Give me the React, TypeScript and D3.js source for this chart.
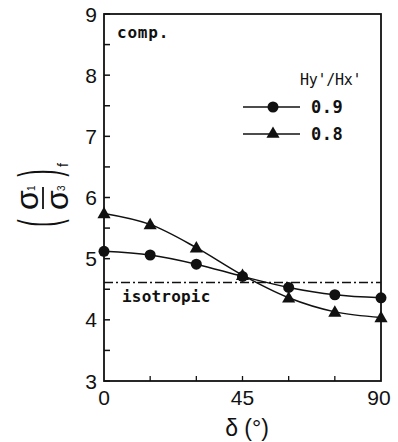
import { useEffect, useRef } from 'react';
import * as d3 from 'd3';

const deltas = [0, 15, 30, 45, 60, 75, 90];
const ratio09 = [5.12, 5.06, 4.91, 4.71, 4.53, 4.41, 4.36];
const ratio08 = [5.74, 5.56, 5.18, 4.73, 4.36, 4.13, 4.04];
const isotropic = 4.61;
const yTicks = [3, 4, 5, 6, 7, 8, 9];
const yMinor = [3.5, 4.5, 5.5, 6.5, 7.5, 8.5];
const xLabels = [0, 45, 90];
const xMinor = [15, 30, 45, 60, 75];
const legendTitle = "Hy'/Hx'";
const seriesNames = ['0.9', '0.8'];

export default function App() {
  const svgRef = useRef<SVGSVGElement>(null);

  useEffect(() => {
    if (!svgRef.current) return;
    const svg = d3.select(svgRef.current);
    svg.selectAll('*').remove();

    const left = 104, right = 381, top = 14, bottom = 381;
    const x = d3.scaleLinear().domain([0, 90]).range([left, right]);
    const y = d3.scaleLinear().domain([3, 9]).range([bottom, top]);
    const ink = '#111';
    const digitFont = 'Liberation Sans, Arial, sans-serif';
    const monoFont = 'DejaVu Sans Mono, monospace';

    // frame
    svg.append('rect')
      .attr('x', left).attr('y', top)
      .attr('width', right - left).attr('height', bottom - top)
      .attr('fill', 'none').attr('stroke', ink).attr('stroke-width', 1.8);

    // y ticks (inward)
    svg.selectAll('.ytick')
      .data([...yTicks, ...yMinor])
      .enter().append('line')
      .attr('x1', left).attr('x2', left + 6)
      .attr('y1', d => y(d)).attr('y2', d => y(d))
      .attr('stroke', ink).attr('stroke-width', 1.5);

    svg.selectAll('.ylab')
      .data(yTicks)
      .enter().append('text')
      .attr('x', 97).attr('y', d => y(d) + 7.5)
      .attr('text-anchor', 'end')
      .style('font-family', digitFont).style('font-size', '21px').style('fill', ink)
      .text(d => d);

    // x ticks (inward)
    svg.selectAll('.xtick')
      .data(xMinor)
      .enter().append('line')
      .attr('x1', d => x(d)).attr('x2', d => x(d))
      .attr('y1', bottom).attr('y2', bottom - 5)
      .attr('stroke', ink).attr('stroke-width', 1.3);

    svg.selectAll('.xlab')
      .data(xLabels)
      .enter().append('text')
      .attr('x', d => x(d) + (d === 90 ? -2 : 0)).attr('y', 405)
      .attr('text-anchor', 'middle')
      .style('font-family', digitFont).style('font-size', '21px').style('fill', ink)
      .text(d => d);

    // x label
    svg.append('text')
      .attr('x', 247).attr('y', 436)
      .attr('text-anchor', 'middle')
      .style('font-family', digitFont).style('font-size', '23px').style('fill', ink)
      .text('δ (°)');

    // y label
    const yl = svg.append('g').attr('transform', 'translate(43,198) rotate(-90)');
    const txt = (s: string, tx: number, ty: number, size: number, anchor = 'middle', tr = '') =>
      yl.append('text')
        .attr('x', tx).attr('y', ty)
        .attr('text-anchor', anchor)
        .attr('transform', tr)
        .style('font-family', digitFont).style('font-size', `${size}px`).style('fill', ink)
        .text(s);
    txt('σ', -2, -5, 32);
    txt('1', 7, -8, 10, 'start');
    yl.append('line')
      .attr('x1', -11).attr('x2', 11).attr('y1', 0).attr('y2', 0)
      .attr('stroke', ink).attr('stroke-width', 1.8);
    txt('σ', -2, 25, 32);
    txt('3', 7, 22, 10, 'start');
    txt('(', 0, 14, 56, 'middle', 'translate(-25,0) scale(0.4,1)');
    txt(')', 0, 14, 56, 'middle', 'translate(25,0) scale(0.4,1)');
    txt('f', 31, 25, 14, 'start');

    // isotropic reference line
    svg.append('line')
      .attr('x1', left).attr('x2', right)
      .attr('y1', y(isotropic)).attr('y2', y(isotropic))
      .attr('stroke', ink).attr('stroke-width', 1.4)
      .attr('stroke-dasharray', '9 3 2 3');

    svg.append('text')
      .attr('x', 122).attr('y', 302)
      .style('font-family', monoFont).style('font-size', '16px').style('fill', ink)
      .style('font-weight', 'bold')
      .style('letter-spacing', '0.2px')
      .text('isotropic');

    svg.append('text')
      .attr('x', 117).attr('y', 38)
      .style('font-family', monoFont).style('font-size', '16px').style('fill', ink)
      .style('font-weight', 'bold')
      .style('letter-spacing', '0.8px')
      .text('comp.');

    const line = d3.line<number>()
      .x((_, i) => x(deltas[i]))
      .y(d => y(d))
      .curve(d3.curveMonotoneX);

    const tri = d3.symbol().type(d3.symbolTriangle).size(75);

    [ratio09, ratio08].forEach((series, k) => {
      svg.append('path')
        .datum(series)
        .attr('d', line)
        .attr('fill', 'none').attr('stroke', ink).attr('stroke-width', 1.5);

      if (k === 0) {
        svg.selectAll('.c')
          .data(series)
          .enter().append('circle')
          .attr('cx', (_, i) => x(deltas[i])).attr('cy', d => y(d))
          .attr('r', 5.5).attr('fill', ink);
      } else {
        svg.selectAll('.t')
          .data(series)
          .enter().append('path')
          .attr('d', tri)
          .attr('transform', (d, i) => `translate(${x(deltas[i])},${y(d) + 1})`)
          .attr('fill', ink);
      }
    });

    // legend
    svg.append('text')
      .attr('x', 300).attr('y', 85)
      .style('font-family', monoFont).style('font-size', '15px').style('fill', ink)
      .style('letter-spacing', '-0.3px')
      .text(legendTitle);

    seriesNames.forEach((name, k) => {
      const ly = 107 + k * 27;
      svg.append('line')
        .attr('x1', 243).attr('x2', 300).attr('y1', ly).attr('y2', ly)
        .attr('stroke', ink).attr('stroke-width', 1.5);
      if (k === 0) {
        svg.append('circle').attr('cx', 273).attr('cy', ly).attr('r', 5.5).attr('fill', ink);
      } else {
        svg.append('path').attr('d', tri).attr('transform', `translate(273,${ly})`).attr('fill', ink);
      }
      svg.append('text')
        .attr('x', 311).attr('y', ly + 6)
        .style('font-family', monoFont).style('font-size', '17px').style('fill', ink)
        .style('font-weight', 'bold')
        .style('letter-spacing', '0.5px')
        .text(name);
    });
  }, []);

  return (
    <svg
      ref={svgRef}
      width={398}
      height={442}
      style={{ position: 'absolute', left: 0, top: 0, background: '#fff' }}
    />
  );
}
